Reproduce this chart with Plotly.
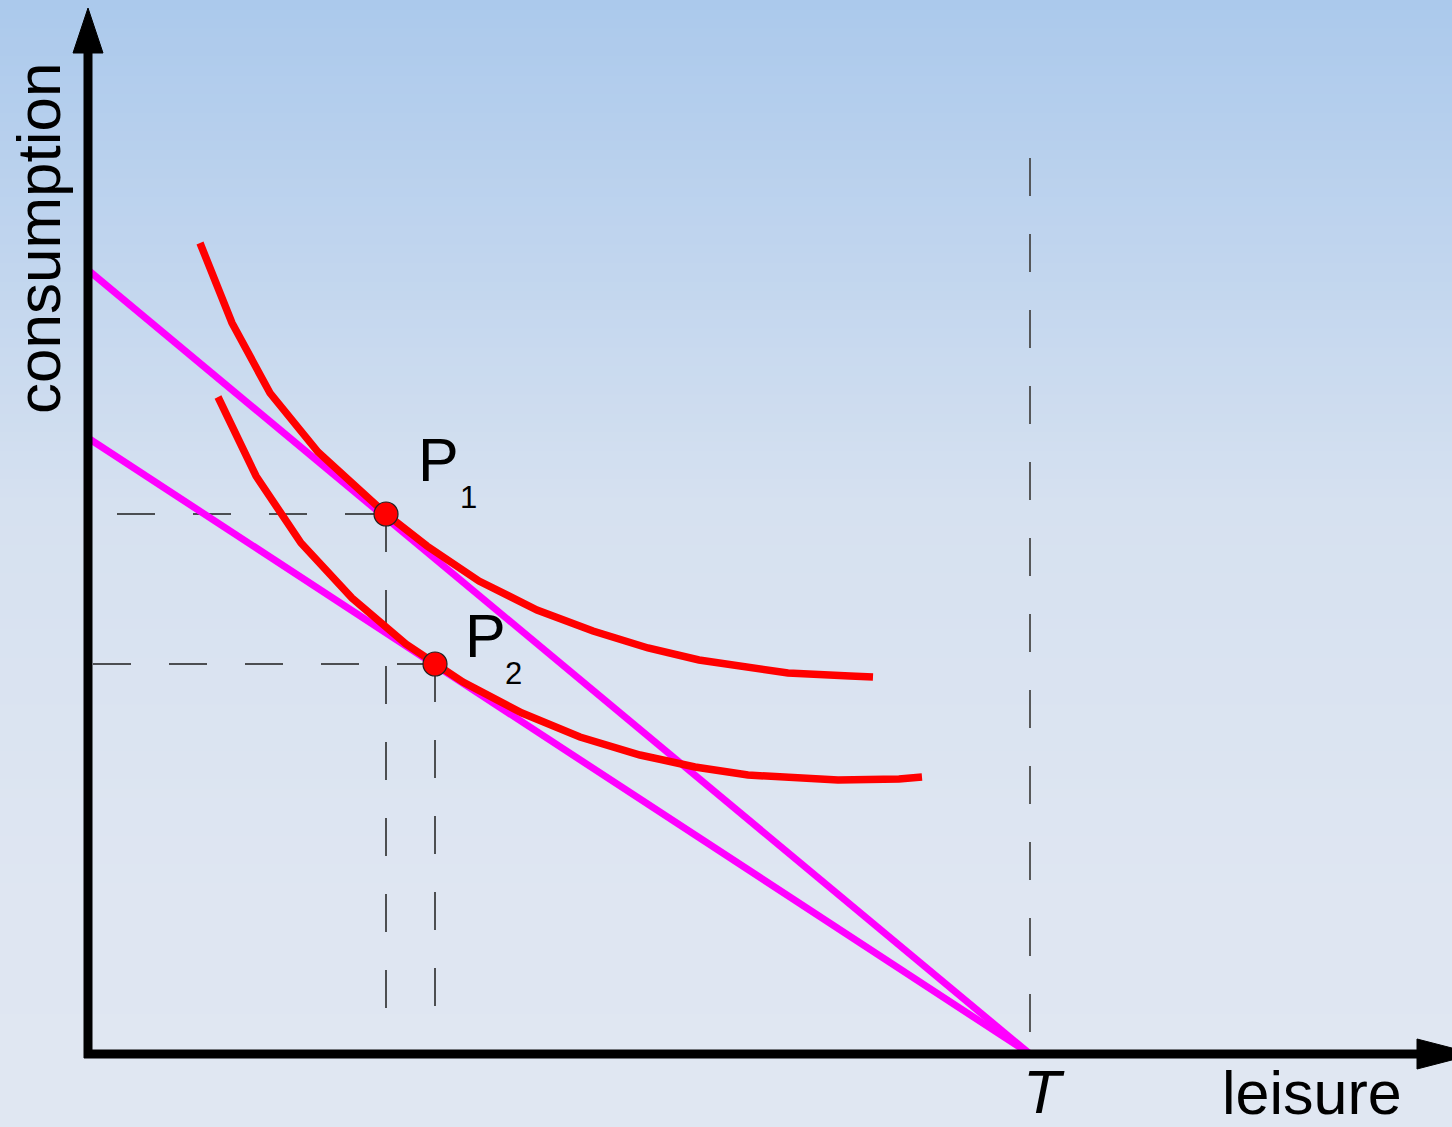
import plotly.graph_objects as go

# ---- data (units measured from the origin of the axes) ----
T = 942
budget_high_intercept = 784
budget_low_intercept = 616

ic1_x = [112, 144, 182, 230, 298, 339, 391, 449, 505, 560, 611, 659, 700, 762, 785]
ic1_y = [811, 731, 661, 602, 540, 508, 473, 444, 423, 406, 394, 386, 381, 378, 377]

ic2_x = [130, 168, 213, 264, 318, 347, 375, 434, 492, 552, 607, 660, 709, 750, 811, 834]
ic2_y = [657, 578, 511, 456, 410, 390, 372, 341, 317, 299, 287, 279, 276, 274, 275, 277]

P_x = [298, 347]
P_y = [540, 390]
P_names = ["1", "2"]

guide_x_start = [29, 5]       # where the horizontal dashed guides begin
guide_y_end = [39, 32]        # where the vertical dashed guides end
T_guide_top = 896
T_guide_bottom = 14

x_axis_end = 1329
y_axis_end = 1001
arrow_len = 45
arrow_half = 15

fig = go.Figure()

# background gradient
stops = [(0.0, (171, 201, 236)), (0.45, (214, 225, 240)), (0.8, (223, 230, 242)), (1.0, (224, 231, 242))]
def col(t):
    for (a, ca), (b, cb) in zip(stops[:-1], stops[1:]):
        if a <= t <= b:
            f = (t - a) / (b - a)
            return "rgb(%d,%d,%d)" % tuple(round(ca[i] + f * (cb[i] - ca[i])) for i in range(3))
    return "rgb(224,231,242)"
N = 120
for k in range(N):
    t0, t1 = k / N, (k + 1) / N
    fig.add_shape(type="rect", xref="paper", yref="paper", x0=0, x1=1,
                  y0=1 - t1 - 0.001, y1=1 - t0, fillcolor=col((t0 + t1) / 2),
                  line=dict(width=0), layer="below")

dash = "38px,38px"
gcol = "#1e1e1e"
# T vertical guide
fig.add_trace(go.Scatter(x=[T, T], y=[T_guide_top, T_guide_bottom], mode="lines",
                         line=dict(color="#4a4a4a", width=1.8, dash=dash), hoverinfo="skip"))
for i in range(2):
    fig.add_trace(go.Scatter(x=[guide_x_start[i], P_x[i]], y=[P_y[i], P_y[i]], mode="lines",
                             line=dict(color=gcol, width=1.5, dash=dash), hoverinfo="skip"))
    fig.add_trace(go.Scatter(x=[P_x[i], P_x[i]], y=[P_y[i], guide_y_end[i]], mode="lines",
                             line=dict(color=gcol, width=1.5, dash=dash), hoverinfo="skip"))

# budget lines
for b in [budget_high_intercept, budget_low_intercept]:
    fig.add_trace(go.Scatter(x=[0, T], y=[b, 0], mode="lines",
                             line=dict(color="#FF00FF", width=7), hoverinfo="skip"))

# indifference curves
for xs, ys in [(ic1_x, ic1_y), (ic2_x, ic2_y)]:
    fig.add_trace(go.Scatter(x=xs, y=ys, mode="lines",
                             line=dict(color="#FF0000", width=7.5), hoverinfo="skip"))

# axes
fig.add_trace(go.Scatter(x=[0, 0], y=[-4, y_axis_end], mode="lines",
                         line=dict(color="black", width=9), hoverinfo="skip"))
fig.add_trace(go.Scatter(x=[-4, x_axis_end], y=[0, 0], mode="lines",
                         line=dict(color="black", width=9), hoverinfo="skip"))
fig.add_trace(go.Scatter(x=[-arrow_half, arrow_half, 0, -arrow_half],
                         y=[y_axis_end, y_axis_end, y_axis_end + arrow_len, y_axis_end],
                         mode="lines", fill="toself", fillcolor="black",
                         line=dict(color="black", width=1), hoverinfo="skip"))
fig.add_trace(go.Scatter(x=[x_axis_end, x_axis_end, x_axis_end + 58, x_axis_end],
                         y=[arrow_half, -arrow_half, 0, arrow_half],
                         mode="lines", fill="toself", fillcolor="black",
                         line=dict(color="black", width=1), hoverinfo="skip"))

# optimum points
fig.add_trace(go.Scatter(x=P_x, y=P_y, mode="markers",
                         marker=dict(size=24, color="#FF0000", line=dict(color="#222222", width=1.2)),
                         hoverinfo="skip"))

font = "Liberation Sans, Arial, sans-serif"
ann = []
ann.append(dict(x=-50, y=816, text="consumption", textangle=-90, font=dict(size=62, color="black", family=font)))
ann.append(dict(x=1224, y=-39, text="leisure", font=dict(size=61, color="black", family=font)))
ann.append(dict(x=T + 14, y=-37, text="<i>T</i>", font=dict(size=62, color="black", family=font)))
p_label_dx = [52, 50]
p_label_dy = [54, 28]
sub_dx = [82, 78]
sub_dy = [17, -9]
for i in range(2):
    ann.append(dict(x=P_x[i] + p_label_dx[i], y=P_y[i] + p_label_dy[i],
                    text="P", font=dict(size=61, color="black", family=font)))
    ann.append(dict(x=P_x[i] + sub_dx[i], y=P_y[i] + sub_dy[i],
                    text=P_names[i], font=dict(size=31, color="black", family=font)))
for a in ann:
    a.update(xref="x", yref="y", showarrow=False, xanchor="center", yanchor="middle")

fig.update_layout(
    width=1452, height=1127, margin=dict(l=0, r=0, t=0, b=0),
    paper_bgcolor="rgb(224,231,242)", plot_bgcolor="rgba(0,0,0,0)",
    showlegend=False, annotations=ann,
    xaxis=dict(range=[-88, 1364], visible=False, fixedrange=True),
    yaxis=dict(range=[-73, 1054], visible=False, fixedrange=True),
)
fig.write_html("out.html", config={"displayModeBar": False, "staticPlot": True},
               post_script="document.body.style.margin='0';document.body.style.overflow='hidden';")
